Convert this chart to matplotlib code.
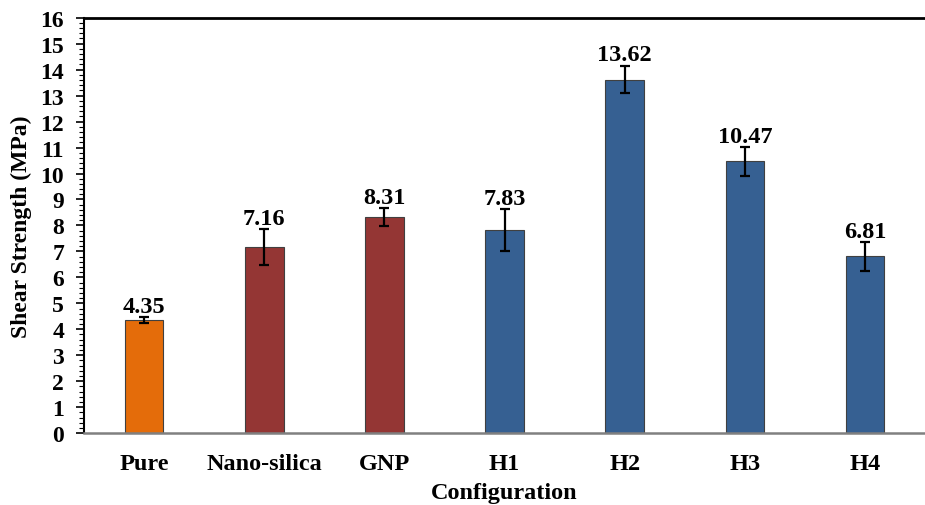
import matplotlib.pyplot as plt
import numpy as np
from matplotlib.ticker import MultipleLocator

# dados
configuracoes = ["Pure", "Nano-silica", "GNP", "H1", "H2", "H3", "H4"]
resistencia = [4.35, 7.16, 8.31, 7.83, 13.62, 10.47, 6.81]
desvio = [0.12, 0.70, 0.35, 0.80, 0.52, 0.55, 0.55]
cores = ["#E46C0A", "#943634", "#943634", "#366092", "#366092", "#366092", "#366092"]

plt.rcParams["font.family"] = ["Liberation Serif", "DejaVu Serif"]
plt.rcParams["font.weight"] = "bold"

fig = plt.figure(figsize=(9.25, 5.06), dpi=100)
ax = fig.add_axes([0.091, 0.142, 0.909, 0.821])

x = np.arange(len(configuracoes))
ax.bar(x, resistencia, width=0.32, color=cores, edgecolor="#404040", linewidth=0.8,
       yerr=desvio, capsize=3.5, error_kw={"elinewidth": 1.6, "capthick": 1.6, "ecolor": "black"},
       zorder=2)

for xi, v, e in zip(x, resistencia, desvio):
    ax.text(xi, v + e + 0.02, f"{v:.2f}", ha="center", va="bottom",
            fontsize=17.5, fontweight="bold")

ax.set_xlim(-0.5, len(configuracoes) - 0.5)
ax.set_ylim(0, 16)
ax.yaxis.set_major_locator(MultipleLocator(1))
ax.yaxis.set_minor_locator(MultipleLocator(0.2))
ax.tick_params(axis="y", which="major", direction="out", length=5.5, width=1.2,
               labelsize=17, pad=9)
ax.tick_params(axis="y", which="minor", direction="out", length=3.5, width=0.8)
ax.tick_params(axis="x", length=0, labelsize=17.5, pad=14)
ax.set_xticks(x)
ax.set_xticklabels(configuracoes, fontweight="bold")
for lbl in ax.get_yticklabels():
    lbl.set_fontweight("bold")

ax.spines["right"].set_visible(False)
ax.spines["top"].set_linewidth(2)
ax.spines["top"].set_color("black")
ax.spines["left"].set_linewidth(1.5)
ax.spines["left"].set_color("black")
ax.spines["bottom"].set_linewidth(1.8)
ax.spines["bottom"].set_color("#808080")

ax.set_ylabel("Shear Strength (MPa)", fontsize=17, fontweight="bold", labelpad=6)
ax.set_xlabel("Configuration", fontsize=17.5, fontweight="bold", labelpad=6)

fig.savefig("out.png", dpi=100)
